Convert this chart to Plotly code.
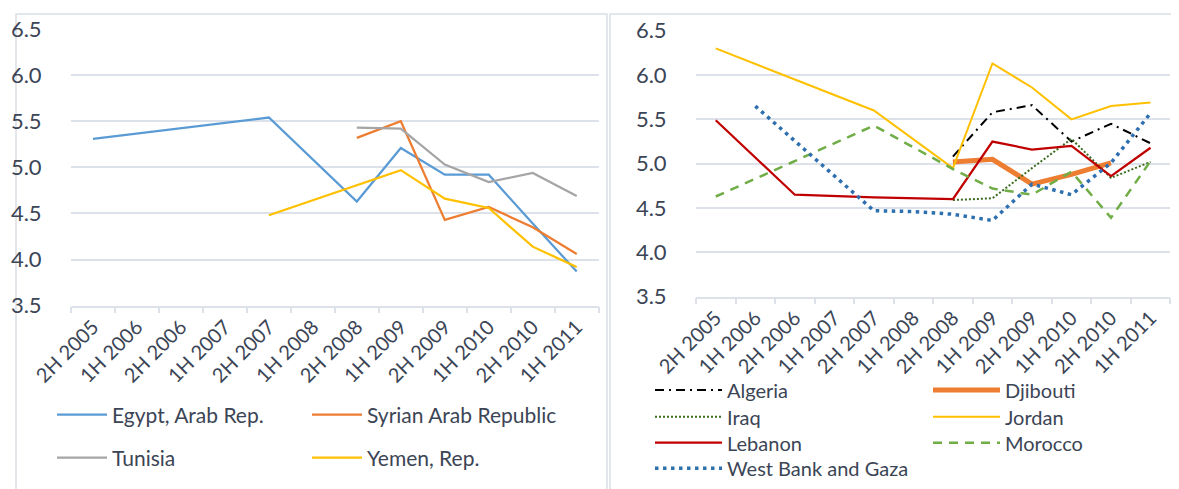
import plotly.graph_objects as go

W, H = 1179, 489

categories = ["2H 2005", "1H 2006", "2H 2006", "1H 2007", "2H 2007", "1H 2008",
              "2H 2008", "1H 2009", "2H 2009", "1H 2010", "2H 2010", "1H 2011"]

# Left panel
egypt = [5.31, None, None, None, 5.54, None, 4.63, 5.21, 4.92, 4.92, 4.39, 3.87]
syria = [None, None, None, None, None, None, 5.32, 5.50, 4.43, 4.57, 4.35, 4.06]
tunisia = [None, None, None, None, None, None, 5.43, 5.42, 5.03, 4.84, 4.94, 4.69]
yemen = [None, None, None, None, 4.48, None, None, 4.97, 4.66, 4.56, 4.14, 3.92]

# Right panel
algeria = [None, None, None, None, None, None, 5.08, 5.58, 5.66, 5.25, 5.45, 5.23]
djibouti = [None, None, None, None, None, None, 5.02, 5.05, 4.77, 4.88, 5.01, None]
iraq = [None, None, None, None, None, None, 4.59, 4.61, 4.95, 5.28, 4.84, 5.02]
jordan = [6.30, None, None, None, 5.60, None, 4.95, 6.13, 5.86, 5.50, 5.65, 5.69]
lebanon = [5.49, None, 4.65, None, 4.62, None, 4.60, 5.25, 5.16, 5.20, 4.86, 5.18]
morocco = [4.63, None, None, None, 5.43, None, 4.94, 4.72, 4.65, 4.91, 4.39, 5.03]
west_bank = [None, 5.65, None, None, 4.47, 4.46, 4.43, 4.36, 4.77, 4.65, 5.01, 5.57]

y_ticks = [3.5, 4.0, 4.5, 5.0, 5.5, 6.0, 6.5]

TEXT = "#3b4555"
GRID = "#dde2ea"
FONT = "Lato, 'Open Sans', sans-serif"

fig = go.Figure()

# (name, values, color, width, dash, side, line start px, row center px, itemwidth)
series = [
    ("Egypt, Arab Rep.", egypt, "#5b9bd5", 2.25, "solid", "left", 57, 415, 50),
    ("Syrian Arab Republic", syria, "#ed7d31", 2.25, "solid", "left", 312, 415, 50),
    ("Tunisia", tunisia, "#a5a5a5", 2.25, "solid", "left", 57, 458, 50),
    ("Yemen, Rep.", yemen, "#ffc000", 2.25, "solid", "left", 312, 458, 50),
    ("Algeria", algeria, "#000000", 2.0, "9px,5px,2px,5px", "right", 655, 390, 67),
    ("Djibouti", djibouti, "#ed7d31", 5.0, "solid", "right", 933, 390, 67),
    ("Iraq", iraq, "#3b6b1f", 2.0, "2px,2px", "right", 655, 416.7, 67),
    ("Jordan", jordan, "#ffc000", 2.0, "solid", "right", 933, 416.7, 67),
    ("Lebanon", lebanon, "#c00000", 2.25, "solid", "right", 655, 442.7, 67),
    ("Morocco", morocco, "#70ad47", 2.5, "9px,7px", "right", 933, 442.7, 67),
    ("West Bank and Gaza", west_bank, "#2e6fb0", 3.5, "3.5px,4.5px", "right", 655, 468.3, 67),
]

layout_legends = {}
for i, (name, vals, color, width, dash, side, lx, ly, iw) in enumerate(series):
    lid = "legend" if i == 0 else f"legend{i + 1}"
    xa, ya = ("x", "y") if side == "left" else ("x2", "y2")
    fig.add_trace(go.Scatter(
        x=categories, y=vals, mode="lines", name=name,
        line=dict(color=color, width=width, dash=dash),
        connectgaps=True, xaxis=xa, yaxis=ya, legend=lid,
        hoverinfo="skip",
    ))
    layout_legends[lid] = dict(
        x=(lx - 13) / W, xanchor="left", y=1 - (ly - 8) / H, yanchor="middle",
        orientation="h", bgcolor="rgba(0,0,0,0)", borderwidth=0,
        itemwidth=iw,
        font=dict(family=FONT, size=21 if side == "left" else 20, color=TEXT),
    )

xcommon = dict(
    type="category", categoryorder="array", categoryarray=categories,
    range=[-0.5, len(categories) - 0.5], tickson="boundaries",
    ticks="outside", ticklen=6, tickwidth=1.5, tickcolor=GRID,
    showline=True, linecolor=GRID, linewidth=1.5, showgrid=False,
    tickangle=-45, tickfont=dict(family=FONT, size=20, color=TEXT),
    automargin=False, fixedrange=True,
)
ycommon = dict(
    range=[3.5, 6.5], tickvals=y_ticks, tickformat=".1f",
    showgrid=True, gridcolor=GRID, gridwidth=1.5, zeroline=False,
    showline=False, ticks="outside", ticklen=24, tickcolor="rgba(0,0,0,0)",
    tickfont=dict(family=FONT, size=22, color=TEXT),
    automargin=False, fixedrange=True,
)

fig.update_layout(
    width=W, height=H,
    margin=dict(l=0, r=0, t=0, b=0),
    paper_bgcolor="white", plot_bgcolor="white",
    showlegend=True,
    xaxis=dict(xcommon, domain=[63 / W, 590.7 / W], anchor="y"),
    yaxis=dict(ycommon, domain=[1 - 297.7 / H, 1 - 21 / H], anchor="x"),
    xaxis2=dict(xcommon, domain=[688 / W, 1162.3 / W], anchor="y2"),
    yaxis2=dict(ycommon, domain=[1 - 288.7 / H, 1 - 22.7 / H], anchor="x2"),
    shapes=[
        dict(type="rect", xref="paper", yref="paper",
             x0=8 / W, x1=599 / W, y0=-0.02, y1=1 - 6 / H,
             line=dict(color="#dadfe6", width=1.5), layer="below"),
        dict(type="rect", xref="paper", yref="paper",
             x0=602 / W, x1=1.02, y0=1 - 488 / H, y1=1 - 6 / H,
             line=dict(color="#dadfe6", width=1.5), layer="below"),
    ],
    **layout_legends,
)

fig.write_html("out.html")
